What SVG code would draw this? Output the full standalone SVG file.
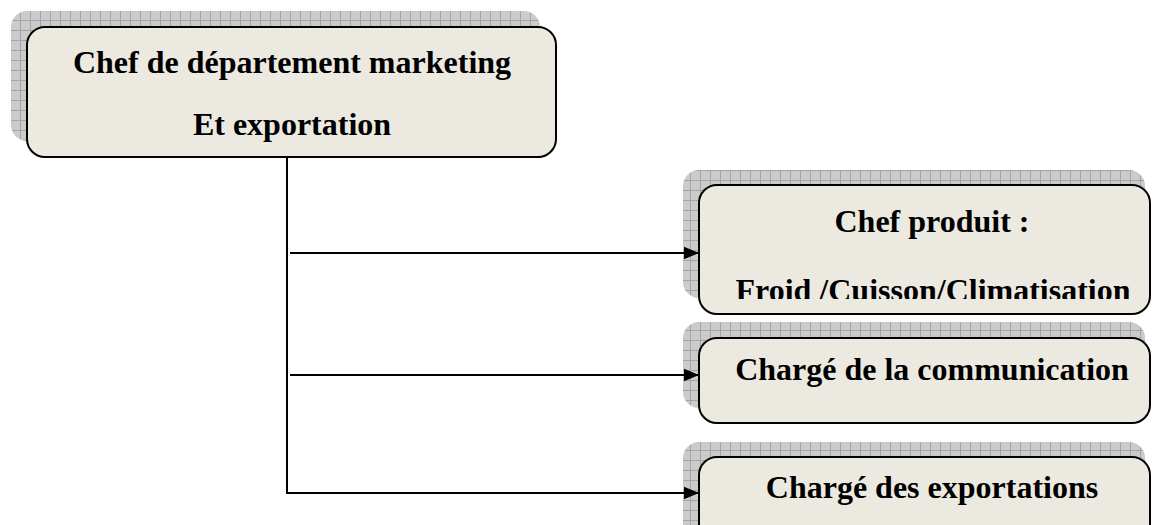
<svg xmlns="http://www.w3.org/2000/svg" width="1153" height="525" viewBox="0 0 1153 525">
<style>
.shadow{fill:url(#grid);stroke:none}
.box{fill:#ECEAE0;stroke:#000;stroke-width:2}
.t{font-family:"Liberation Serif","Times New Roman",serif;font-weight:bold;font-size:32px;fill:#000;text-anchor:middle}
.conn{stroke:#000;stroke-width:2;fill:none}
</style>
<defs>
<pattern id="grid" width="10" height="10" patternUnits="userSpaceOnUse">
<rect width="10" height="10" fill="#cbcbcb"/>
<path d="M0 0.5H10M0.5 0V10" stroke="#a4a4a4" stroke-width="1"/>
</pattern>
<marker id="arr" viewBox="0 0 10 10" refX="10" refY="5" markerWidth="15" markerHeight="15" markerUnits="userSpaceOnUse" orient="auto">
<path d="M0 0.8L10 5L0 9.2Z" fill="#000"/>
</marker>
<clipPath id="clip1"><rect x="699" y="185" width="451" height="114"/></clipPath>
</defs>
<g id="chef-departement">
<rect class="shadow" x="11" y="11" width="529" height="130" rx="16"/>
<rect class="box" x="27" y="27" width="529" height="130" rx="18"/>
<text class="t" x="292" y="73">Chef de département marketing</text>
<text class="t" x="292" y="135">Et exportation</text>
</g>
<g id="chef-produit">
<rect class="shadow" x="683" y="170" width="462" height="128" rx="16"/>
<rect class="box" x="699" y="185" width="451" height="129" rx="18"/>
<g clip-path="url(#clip1)">
<text class="t" x="932" y="232">Chef produit :</text>
<text class="t" x="933" y="301">Froid /Cuisson/Climatisation</text>
</g>
</g>
<g id="charge-communication">
<rect class="shadow" x="683" y="322" width="462" height="86" rx="16"/>
<rect class="box" x="699" y="338" width="451" height="85" rx="18"/>
<text class="t" x="932" y="380">Chargé de la communication</text>
</g>
<g id="charge-exportations">
<rect class="shadow" x="683" y="442" width="462" height="100" rx="16"/>
<rect class="box" x="699" y="457" width="451" height="100" rx="18"/>
<text class="t" x="932" y="498">Chargé des exportations</text>
</g>
<g id="connectors">
<path class="conn" d="M287 157V493H699" marker-end="url(#arr)"/>
<path class="conn" d="M290 253H699" marker-end="url(#arr)"/>
<path class="conn" d="M290 375H699" marker-end="url(#arr)"/>
</g>
</svg>
